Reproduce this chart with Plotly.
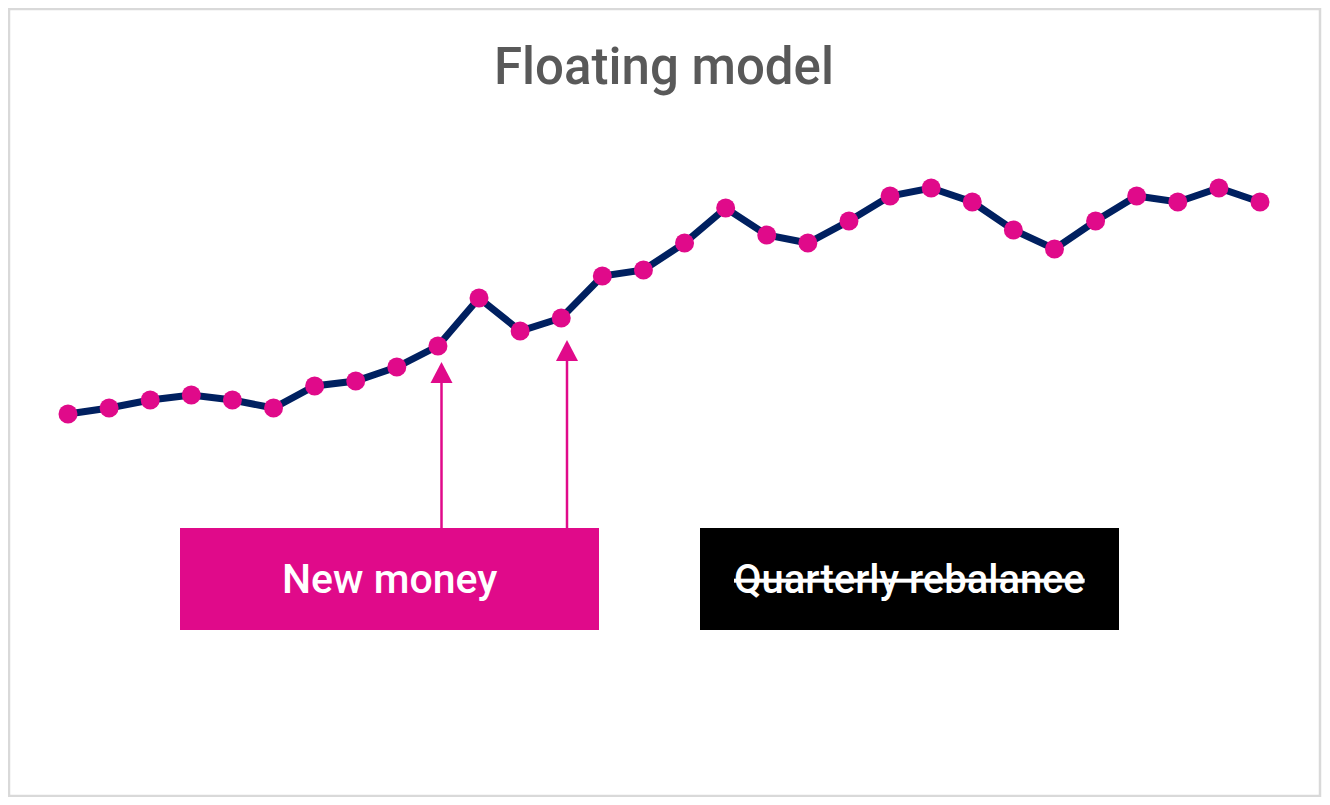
import plotly.graph_objects as go

# Page body has an 8px margin, so the figure is placed at (8, 8)
OFF = 8
W, H = 1330 - 2 * OFF, 805 - 2 * OFF

# Data (arbitrary index units)
periods = list(range(1, 31))
values = [86, 92, 100, 105, 100, 92, 114, 119, 133, 154,
          202, 169, 182, 224, 230, 257, 292, 265, 257, 279,
          304, 312, 298, 270, 251, 279, 304, 298, 312, 298]
title_text = "Floating model"
box_labels = ["New money", "<s>Quarterly rebalance</s>"]

PINK = "#E00A8A"
NAVY = "#002060"


def px(x):
    return (x - OFF) / W


def py(y):
    return 1 - (y - OFF) / H


fig = go.Figure()
fig.add_trace(go.Scatter(
    x=periods, y=values, mode="lines+markers",
    line=dict(color=NAVY, width=7),
    marker=dict(color=PINK, size=19, line=dict(width=0)),
    cliponaxis=False, hoverinfo="skip", showlegend=False,
))

# x axis: first point at page px 68, last at 1260
step = (1260 - 68) / 29
x0 = 1 - (68 - OFF) / step
x1 = 30 + (1330 - OFF - 1260) / step
# y axis: value v sits at page px 500 - v
y1 = 500 - OFF
y0 = 500 - (805 - OFF)

shapes = []
# outer border
shapes.append(dict(type="rect", xref="paper", yref="paper",
                   x0=px(9), x1=px(1320), y0=py(796), y1=py(9),
                   line=dict(color="#D9D9D9", width=2.5), fillcolor="rgba(0,0,0,0)"))
# boxes
shapes.append(dict(type="rect", xref="paper", yref="paper",
                   x0=px(180), x1=px(599), y0=py(630), y1=py(528),
                   line=dict(width=0), fillcolor=PINK, layer="below"))
shapes.append(dict(type="rect", xref="paper", yref="paper",
                   x0=px(700), x1=px(1119), y0=py(630), y1=py(528),
                   line=dict(width=0), fillcolor="#000000", layer="below"))
# arrows
for ax, tip in [(441.5, 362), (567, 340)]:
    shapes.append(dict(type="line", xref="paper", yref="paper",
                       x0=px(ax), x1=px(ax), y0=py(528), y1=py(tip + 18),
                       line=dict(color=PINK, width=2.5)))
    path = "M {a},{b} L {c},{d} L {e},{f} Z".format(
        a=px(ax), b=py(tip), c=px(ax - 11), d=py(tip + 21), e=px(ax + 11), f=py(tip + 21))
    shapes.append(dict(type="path", xref="paper", yref="paper", path=path,
                       fillcolor=PINK, line=dict(width=0)))

annotations = [
    dict(text=title_text, xref="paper", yref="paper", x=px(664), y=py(66),
         showarrow=False, xanchor="center", yanchor="middle",
         font=dict(family="Roboto", size=51, color="#595959", weight=500)),
    dict(text=box_labels[0], xref="paper", yref="paper", x=px(389.5), y=py(579),
         showarrow=False, xanchor="center", yanchor="middle",
         font=dict(family="Roboto", size=41, color="#FFFFFF", weight=500)),
    dict(text=box_labels[1], xref="paper", yref="paper", x=px(909.5), y=py(579),
         showarrow=False, xanchor="center", yanchor="middle",
         font=dict(family="Roboto", size=40, color="#FFFFFF", weight=500)),
]

fig.update_layout(
    width=W, height=H,
    margin=dict(l=0, r=0, t=0, b=0),
    paper_bgcolor="white", plot_bgcolor="white",
    xaxis=dict(range=[x0, x1], visible=False, fixedrange=True),
    yaxis=dict(range=[y0, y1], visible=False, fixedrange=True),
    shapes=shapes, annotations=annotations,
    showlegend=False,
)

fig.write_html("out.html", config={"displayModeBar": False})
